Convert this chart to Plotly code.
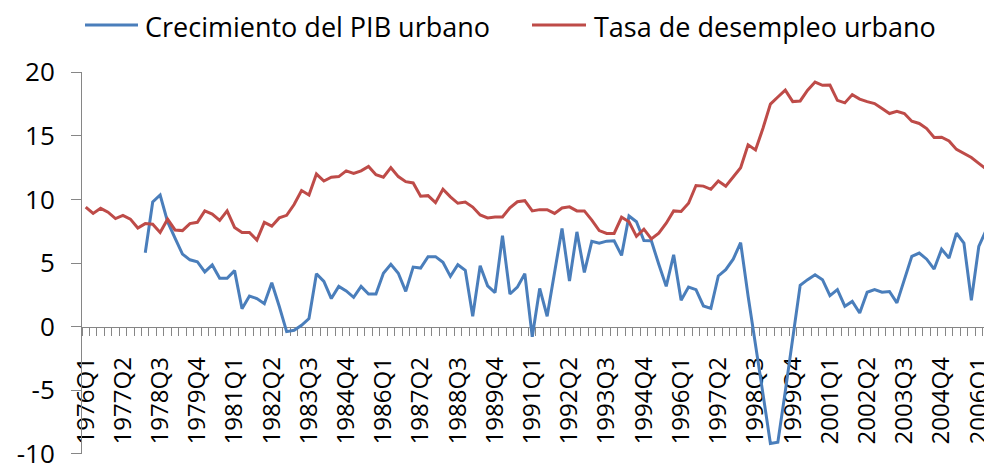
import plotly.graph_objects as go

# quarters 1976Q1 .. 2006Q2
quarters = [f"{y}Q{q}" for y in range(1976, 2007) for q in range(1, 5)][:122]

# only every 5th quarter gets a label
tick_labels = [q if i % 5 == 0 else "" for i, q in enumerate(quarters)]

y_ticks = [-10, -5, 0, 5, 10, 15, 20]
y_tick_labels = ["-10", "-5", "0", "5", "10", "15", "20"]

crecimiento_pib = [
    None, None, None, None, None, None, None, None,
    5.8, 9.8, 10.35, 8.25, 6.95, 5.7, 5.25, 5.1, 4.3, 4.85,
    3.8, 3.8, 4.4, 1.4, 2.4, 2.2, 1.8, 3.45, 1.6, -0.4,
    -0.3, 0.1, 0.63, 4.16, 3.55, 2.2, 3.16, 2.8, 2.3, 3.16,
    2.56, 2.56, 4.2, 4.9, 4.2, 2.77, 4.68, 4.6, 5.5, 5.5,
    5.05, 3.95, 4.86, 4.42, 0.81, 4.78, 3.2, 2.67, 7.14, 2.56,
    3.1, 4.16, -0.8, 3.0, 0.81, 4.25, 7.72, 3.58, 7.45, 4.26,
    6.7, 6.55, 6.72, 6.75, 5.6, 8.7, 8.25, 6.77, 6.75, 4.9,
    3.16, 5.65, 2.07, 3.11, 2.9, 1.62, 1.43, 3.98, 4.47, 5.3,
    6.6, 2.4, -1.3, -5.3, -9.2, -9.1, -5.1, -1.0, 3.25, 3.69,
    4.08, 3.69, 2.43, 2.9, 1.6, 1.98, 1.07, 2.7, 2.9, 2.7,
    2.76, 1.86, 3.69, 5.52, 5.78, 5.3, 4.52, 6.09, 5.39, 7.35,
    6.56, 2.07, 6.3, 7.6,
]

desempleo = [
    9.4, 8.9, 9.3, 9.0, 8.5, 8.75, 8.45, 7.75, 8.1, 8.05,
    7.4, 8.45, 7.6, 7.55, 8.1, 8.2, 9.1, 8.85, 8.35, 9.1,
    7.8, 7.4, 7.4, 6.8, 8.2, 7.9, 8.55, 8.75, 9.6, 10.7,
    10.35, 12.0, 11.45, 11.75, 11.8, 12.25, 12.05, 12.25, 12.6, 11.95,
    11.75, 12.5, 11.8, 11.4, 11.3, 10.25, 10.3, 9.75, 10.8, 10.2,
    9.7, 9.8, 9.4, 8.78, 8.55, 8.62, 8.62, 9.35, 9.82, 9.9,
    9.1, 9.2, 9.2, 8.9, 9.33, 9.42, 9.1, 9.1, 8.38, 7.55,
    7.33, 7.33, 8.6, 8.25, 7.1, 7.66, 6.9, 7.35, 8.13, 9.1,
    9.05, 9.7, 11.1, 11.05, 10.8, 11.45, 11.05, 11.75, 12.5, 14.3,
    13.9, 15.6, 17.5, 18.06, 18.6, 17.7, 17.75, 18.6, 19.24, 18.98,
    19.0, 17.8, 17.6, 18.25, 17.9, 17.7, 17.55, 17.15, 16.76, 16.94,
    16.76, 16.16, 15.98, 15.58, 14.88, 14.9, 14.6, 13.94, 13.6, 13.3,
    12.84, 12.4,
]

series_names = ["Crecimiento del PIB urbano", "Tasa de desempleo urbano"]
series_colors = ["#4A7EBB", "#BE4B48"]
axis_grey = "#868686"

fig = go.Figure()
for name, values, color in zip(series_names, [crecimiento_pib, desempleo], series_colors):
    fig.add_trace(
        go.Scatter(
            x=quarters,
            y=values,
            mode="lines",
            name=name,
            line=dict(color=color, width=3),
        )
    )

# Excel-style legend above the plot: long line sample followed by the text
# (plot area spans 82..984 px horizontally and 72..454 px vertically)
def px_x(p):
    return (p - 82) / 902


def px_y(p):
    return (454 - p) / 382


legend_items = [(85, 138, 143), (532, 586, 592)]
for (x0, x1, xt), name, color in zip(legend_items, series_names, series_colors):
    fig.add_shape(
        type="line",
        xref="paper",
        yref="paper",
        x0=px_x(x0),
        x1=px_x(x1),
        y0=px_y(25),
        y1=px_y(25),
        line=dict(color=color, width=3),
    )
    fig.add_annotation(
        text=name,
        xref="paper",
        yref="paper",
        x=px_x(xt),
        y=px_y(26),
        xanchor="left",
        yanchor="middle",
        showarrow=False,
        font=dict(size=27, color="black"),
    )

fig.update_layout(
    width=984,
    height=464,
    margin=dict(l=82, r=0, t=72, b=10),
    paper_bgcolor="white",
    plot_bgcolor="white",
    font=dict(family="Open Sans", size=24, color="black"),
    showlegend=False,
)

fig.update_xaxes(
    type="category",
    categoryorder="array",
    categoryarray=quarters,
    range=[-0.5, 120.7],
    anchor="free",
    position=10.03 / 30.06,
    showline=True,
    linecolor=axis_grey,
    linewidth=1,
    ticks="outside",
    tickson="boundaries",
    ticklen=8,
    tickcolor=axis_grey,
    tickmode="array",
    tickvals=quarters,
    ticktext=tick_labels,
    tickangle=-90,
    tickfont=dict(size=24),
    ticklabelstandoff=20,
    ticklabeloverflow="allow",
    automargin=False,
    showgrid=False,
    zeroline=False,
    layer="below traces",
)

fig.update_yaxes(
    range=[-10.03, 20.03],
    tickmode="array",
    tickvals=y_ticks,
    ticktext=y_tick_labels,
    showline=True,
    linecolor=axis_grey,
    linewidth=1,
    ticks="outside",
    ticklen=10,
    tickcolor=axis_grey,
    tickfont=dict(size=26),
    ticklabelstandoff=11,
    ticklabeloverflow="allow",
    automargin=False,
    showgrid=False,
    zeroline=False,
)

# drop the default body margin so the figure sits at the page corner
fig.write_html(
    "out.html",
    config={"displayModeBar": False},
    post_script="document.body.style.margin = '0';",
)
